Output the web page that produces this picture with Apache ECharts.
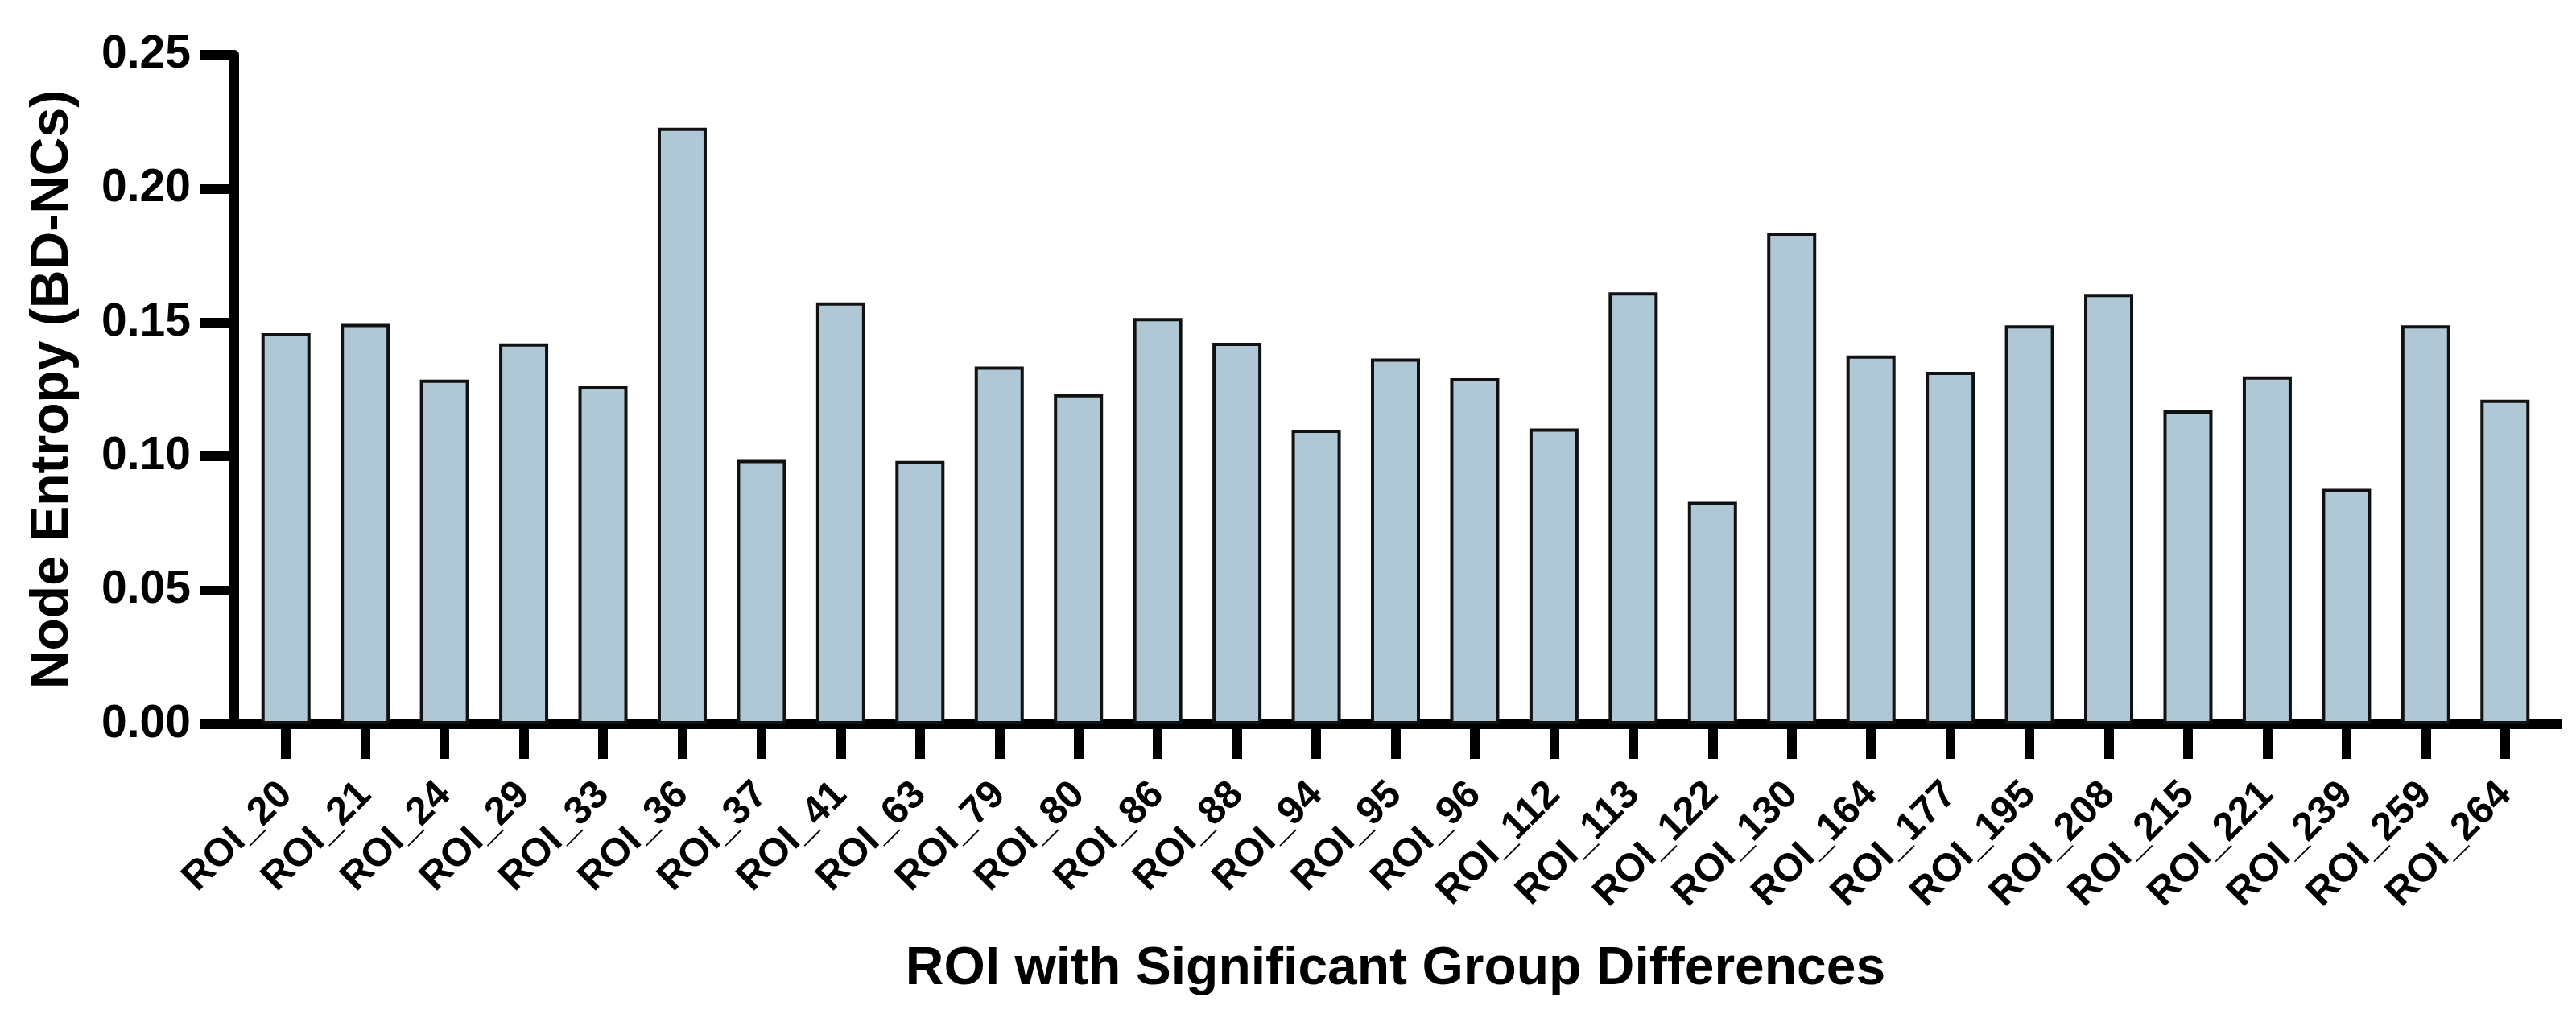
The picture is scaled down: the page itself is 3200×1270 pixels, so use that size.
<!DOCTYPE html>
<html>
<head>
<meta charset="utf-8">
<script src="https://cdn.jsdelivr.net/npm/echarts@6/dist/echarts.min.js"></script>
<style>
html,body{margin:0;padding:0;background:#fff;}
#chart{width:3200px;height:1270px;}
</style>
</head>
<body>
<div id="chart"></div>
<script>
const categories = ['ROI_20','ROI_21','ROI_24','ROI_29','ROI_33','ROI_36','ROI_37','ROI_41','ROI_63','ROI_79','ROI_80','ROI_86','ROI_88','ROI_94','ROI_95','ROI_96','ROI_112','ROI_113','ROI_122','ROI_130','ROI_164','ROI_177','ROI_195','ROI_208','ROI_215','ROI_221','ROI_239','ROI_259','ROI_264'];
const entropyValues = [0.1460,0.1495,0.1287,0.1422,0.1262,0.2227,0.0987,0.1575,0.0983,0.1336,0.1233,0.1517,0.1424,0.1100,0.1366,0.1292,0.1104,0.1613,0.0831,0.1836,0.1377,0.1316,0.1490,0.1607,0.1172,0.1299,0.0879,0.1490,0.1212];
const yTicks = [0, 0.25, 0.05];
const yAxisTitle = 'Node Entropy (BD-NCs)';
const xAxisTitle = 'ROI with Significant Group Differences';

const FONT = '"Liberation Sans", Arial, Helvetica, sans-serif';
const chart = echarts.init(document.getElementById('chart'));
chart.setOption({
  backgroundColor: '#ffffff',
  animation: false,
  grid: { left: 306, right: 39, top: 68, bottom: 370, containLabel: false },
  xAxis: {
    type: 'category',
    data: categories,
    name: xAxisTitle,
    nameLocation: 'middle',
    nameGap: 272,
    nameTextStyle: { fontFamily: FONT, fontWeight: 'bold', fontSize: 66, color: '#000' },
    axisLine: { lineStyle: { color: '#000', width: 12 },
      symbol: ['rect', 'rect'], symbolSize: [12, 22], symbolOffset: [-10, 11] },
    axisTick: { show: true, alignWithLabel: true, length: 43, lineStyle: { color: '#000', width: 12 } },
    axisLabel: { interval: 0, rotate: 45, margin: 80, fontFamily: FONT, fontWeight: 'bold', fontSize: 49, color: '#000' },
    splitLine: { show: false }
  },
  yAxis: {
    type: 'value',
    offset: 15,
    min: yTicks[0],
    max: yTicks[1],
    interval: yTicks[2],
    name: yAxisTitle,
    nameLocation: 'middle',
    nameGap: 192,
    nameRotate: 90,
    nameTextStyle: { fontFamily: FONT, fontWeight: 'bold', fontSize: 66, color: '#000' },
    axisLine: { show: true, lineStyle: { color: '#000', width: 12 } },
    axisTick: { show: true, length: 43, lineStyle: { color: '#000', width: 12 } },
    axisLabel: { margin: 54, fontFamily: FONT, fontWeight: 'bold', fontSize: 57, color: '#000',
      formatter: v => v.toFixed(2) },
    splitLine: { show: false }
  },
  series: [{
    type: 'bar',
    data: entropyValues,
    barWidth: 61,
    itemStyle: { color: '#b0c8d5', borderColor: '#111', borderWidth: 4 }
  }]
});
</script>
</body>
</html>
